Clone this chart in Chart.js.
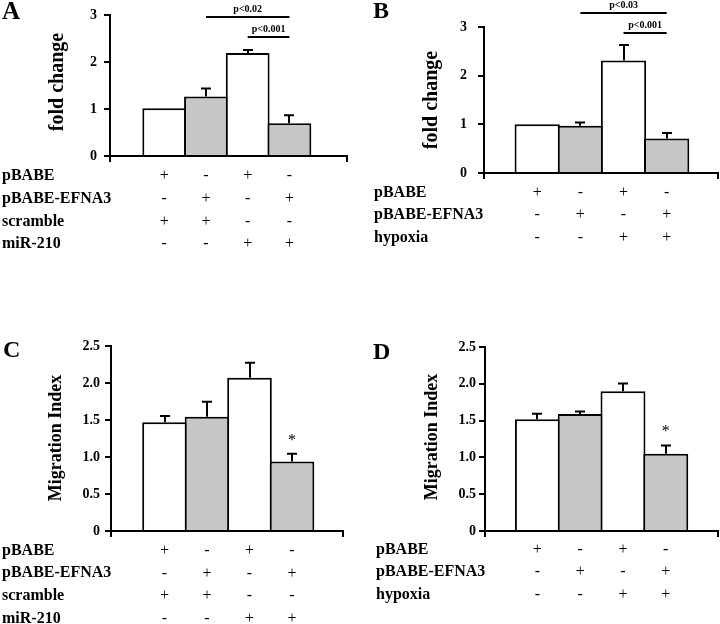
<!DOCTYPE html>
<html><head><meta charset="utf-8">
<script src="https://cdn.jsdelivr.net/npm/chart.js@4/dist/chart.umd.min.js"></script>
<style>
html,body{margin:0;padding:0;background:#fff;}
#wrap{position:relative;width:720px;height:624px;overflow:hidden;background:#fff;}
.p{position:absolute;width:360px;height:312px;}
</style></head><body>
<div id="wrap">
<div class="p" style="left:0;top:0"><canvas id="cA" width="360" height="312"></canvas></div>
<div class="p" style="left:360px;top:0"><canvas id="cB" width="360" height="312"></canvas></div>
<div class="p" style="left:0;top:312px"><canvas id="cC" width="360" height="312"></canvas></div>
<div class="p" style="left:360px;top:312px"><canvas id="cD" width="360" height="312"></canvas></div>
</div>
<script>
// ---- data ----
const positions = [1, 2, 3, 4];
const foldA = [1.02, 1.27, 2.20, 0.70];
const errA  = [0, 0.18, 0.07, 0.18];
const foldB = [1.00, 0.97, 2.31, 0.71];
const errB  = [0, 0.08, 0.33, 0.12];
const migC  = [1.47, 1.545, 2.07, 0.94];
const errC  = [0.09, 0.21, 0.21, 0.11];
const migD  = [1.52, 1.59, 1.90, 1.05];
const errD  = [0.08, 0.04, 0.11, 0.12];
const rowsA = ['pBABE', 'pBABE-EFNA3', 'scramble', 'miR-210'];
const signsA = [['+','-','+','-'], ['-','+','-','+'], ['+','+','-','-'], ['-','-','+','+']];
const rowsB = ['pBABE', 'pBABE-EFNA3', 'hypoxia'];
const signsB = [['+','-','+','-'], ['-','+','-','+'], ['-','-','+','+']];
const ticksFold = [0, 1, 2, 3];
const ticksMig = [0, 0.5, 1, 1.5, 2, 2.5];
const sigA = [{a: 2, b: 4, y: 2.96, t: 'p<0.02'}, {a: 3, b: 4, y: 2.53, t: 'p<0.001'}];
const sigB = [{a: 2, b: 4, y: 3.29, t: 'p<0.03'}, {a: 3, b: 4, y: 2.87, t: 'p<0.001'}];
const starC = 1.26;
const starD = 1.39;

const FILLS = ['#ffffff', '#c6c6c6', '#ffffff', '#c6c6c6'];
const SERIF = '"Liberation Serif","Times New Roman",serif';

const overlay = {
  id: 'overlay',
  afterDatasetsDraw(chart) {
    const o = chart.options.plugins.overlay;
    const ctx = chart.ctx, xs = chart.scales.x, ys = chart.scales.y;
    ctx.save();
    ctx.strokeStyle = '#000'; ctx.fillStyle = '#000'; ctx.lineWidth = 2;
    // error bars
    o.values.forEach((v, i) => {
      const e = o.errs[i]; if (!e) return;
      const x = Math.round(xs.getPixelForValue(positions[i]));
      const y1 = ys.getPixelForValue(v), y2 = ys.getPixelForValue(v + e);
      ctx.beginPath(); ctx.moveTo(x, y1); ctx.lineTo(x, y2);
      ctx.moveTo(x - 5, y2 + 0.5); ctx.lineTo(x + 5, y2 + 0.5); ctx.stroke();
    });
    // significance brackets
    (o.sig || []).forEach(s => {
      const xa = xs.getPixelForValue(s.a), xb = xs.getPixelForValue(s.b);
      const y = Math.round(ys.getPixelForValue(s.y));
      ctx.beginPath(); ctx.moveTo(xa, y); ctx.lineTo(xb, y); ctx.stroke();
      ctx.font = 'bold 10px ' + SERIF; ctx.textAlign = 'center'; ctx.textBaseline = 'alphabetic';
      ctx.fillText(s.t, (xa + xb) / 2, y - 5);
    });
    // asterisk
    if (o.star != null) {
      ctx.font = '16px ' + SERIF; ctx.textAlign = 'center'; ctx.textBaseline = 'middle';
      ctx.fillText('*', xs.getPixelForValue(positions[3]), ys.getPixelForValue(o.star) + 3);
    }
    // condition table
    o.rows.forEach((r, ri) => {
      const y = o.rowY[ri];
      ctx.textBaseline = 'middle';
      ctx.font = 'bold 16px ' + SERIF; ctx.textAlign = 'left';
      ctx.fillText(r, o.rowX, y);
      ctx.font = '16px ' + SERIF; ctx.textAlign = 'center';
      o.signs[ri].forEach((s, i) => ctx.fillText(s, xs.getPixelForValue(positions[i]), y));
    });
    // panel letter
    ctx.font = 'bold ' + o.label.size + 'px ' + SERIF; ctx.textAlign = 'left'; ctx.textBaseline = 'alphabetic';
    ctx.fillText(o.label.t, o.label.x, o.label.y);
    // y title
    ctx.translate(o.title.x, o.title.y); ctx.rotate(-Math.PI / 2);
    ctx.font = 'bold ' + o.title.size + 'px ' + SERIF; ctx.textAlign = 'center'; ctx.textBaseline = 'middle';
    ctx.fillText(o.title.t, 0, 0);
    ctx.restore();
  }
};

function panel(id, c) {
  return new Chart(document.getElementById(id), {
    type: 'bar',
    data: { datasets: [{
      data: positions.map((x, i) => ({x, y: c.values[i]})),
      backgroundColor: FILLS, borderColor: '#000', borderWidth: 2, borderSkipped: 'bottom',
      barPercentage: 1.05, categoryPercentage: 1
    }]},
    options: {
      responsive: false, animation: false, devicePixelRatio: 1,
      layout: { padding: { left: 0, right: c.padR, top: c.padT, bottom: 0 } },
      plugins: { legend: { display: false }, tooltip: { enabled: false }, overlay: c },
      scales: {
        x: {
          type: 'linear', min: c.xMin, max: c.xMax, offset: false,
          afterBuildTicks: s => { s.ticks = [{value: c.xMin}, {value: c.xMax}]; },
          afterFit: s => { s.height = c.xH; },
          ticks: { display: false },
          grid: { offset: false, drawOnChartArea: false, drawTicks: true, tickLength: 6, color: '#000', lineWidth: 2 },
          border: { color: '#000', width: 2 }
        },
        y: {
          min: 0, max: c.yMax,
          afterBuildTicks: s => { s.ticks = c.yTicks.map(v => ({value: v})); },
          afterFit: s => { s.width = c.yW; },
          ticks: { color: '#000', padding: c.tickPad, font: { family: SERIF, weight: 'bold', size: 14 },
                   callback: c.fmt },
          grid: { drawOnChartArea: false, tickLength: 6, color: '#000', lineWidth: 2 },
          border: { color: '#000', width: 2 }
        }
      }
    },
    plugins: [overlay]
  });
}

const fmtInt = v => String(v);
const fmtDec = v => v === 0 ? '0' : v.toFixed(1);

panel('cA', { values: foldA, errs: errA, yMax: 3, yTicks: ticksFold, fmt: fmtInt,
  xMin: -0.3, xMax: 5.38, yW: 110, padR: 13, padT: 11, xH: 156, tickPad: 7,
  sig: sigA, rows: rowsA, signs: signsA, rowX: 2, rowY: [176, 199, 222, 244],
  label: {t: 'A', x: 2, y: 19, size: 25}, title: {t: 'fold change', x: 58, y: 82, size: 20} });

panel('cB', { values: foldB, errs: errB, yMax: 3, yTicks: ticksFold, fmt: fmtInt,
  xMin: -0.234, xMax: 5.19, yW: 124, padR: 2, padT: 27, xH: 139, tickPad: 11,
  sig: sigB, rows: rowsB, signs: signsB, rowX: 14, rowY: [193, 215, 238],
  label: {t: 'B', x: 13, y: 18, size: 24}, title: {t: 'fold change', x: 72, y: 100, size: 20} });

panel('cC', { values: migC, errs: errC, yMax: 2.5, yTicks: ticksMig, fmt: fmtDec,
  xMin: -0.259, xMax: 5.2, yW: 111, padR: 17, padT: 34, xH: 93, tickPad: 5,
  star: starC, rows: rowsA, signs: signsA, rowX: 2, rowY: [238.7, 261.3, 284, 306.7],
  label: {t: 'C', x: 3, y: 45, size: 24}, title: {t: 'Migration Index', x: 56, y: 126, size: 18} });

panel('cD', { values: migD, errs: errD, yMax: 2.5, yTicks: ticksMig, fmt: fmtDec,
  xMin: -0.224, xMax: 5.22, yW: 125, padR: 2, padT: 35, xH: 93, tickPad: 3,
  star: starD, rows: rowsB, signs: signsB, rowX: 16, rowY: [238, 259.7, 283],
  label: {t: 'D', x: 13, y: 47, size: 24}, title: {t: 'Migration Index', x: 72, y: 125, size: 18} });
</script>
</body></html>
